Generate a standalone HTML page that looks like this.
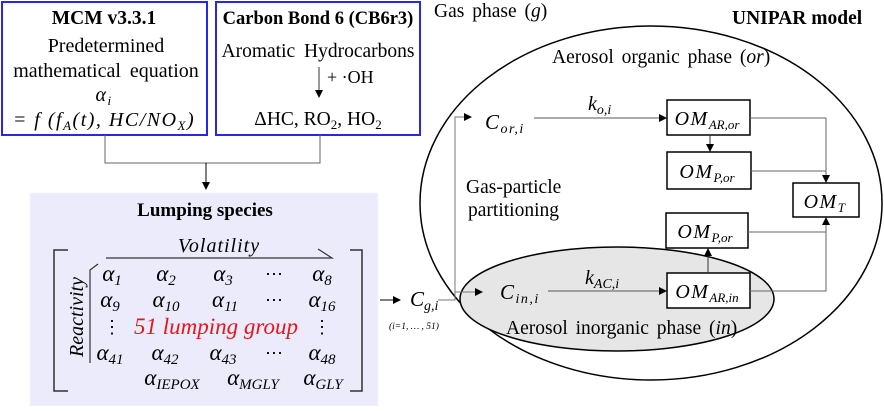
<!DOCTYPE html>
<html><head><meta charset="utf-8"><style>
body{margin:0;background:#fff;width:884px;height:406px;overflow:hidden}
svg text{font-family:"Liberation Serif",serif;fill:#000}
.i{font-style:italic}
.m{font-style:italic;letter-spacing:1.5px}
</style></head><body>
<svg width="884" height="406" viewBox="0 0 884 406" xmlns="http://www.w3.org/2000/svg">
<defs><marker id="a" markerWidth="8" markerHeight="8" refX="7" refY="4" orient="auto" markerUnits="userSpaceOnUse"><path d="M0,0 L8,4 L0,8 z" fill="#000"/></marker></defs>
<rect x="2" y="2" width="205" height="133" fill="#fff" stroke="#2828e0" stroke-width="2"/>
<text x="104" y="24" text-anchor="middle" font-weight="bold" font-size="19.5">MCM v3.3.1</text>
<text x="106" y="52" text-anchor="middle" font-size="20">Predetermined</text>
<text x="106" y="77" text-anchor="middle" font-size="20" word-spacing="4">mathematical equation</text>
<text x="104" y="101" text-anchor="middle" font-size="20" class="m">α<tspan font-size="13" dy="4">i</tspan></text>
<text x="104" y="126" text-anchor="middle" font-size="20" class="m">= f (f<tspan font-size="13" dy="4">A</tspan><tspan dy="-4">(t), HC/NO</tspan><tspan font-size="13" dy="4">X</tspan><tspan dy="-4">)</tspan></text>
<rect x="216" y="2" width="204" height="133" fill="#fff" stroke="#2828e0" stroke-width="2"/>
<text x="318" y="24" text-anchor="middle" font-weight="bold" font-size="18.5">Carbon Bond 6 (CB6r3)</text>
<text x="318" y="57" text-anchor="middle" font-size="19.5" word-spacing="4">Aromatic Hydrocarbons</text>
<line x1="319" y1="67" x2="319" y2="97" stroke="#333" marker-end="url(#a)"/>
<text x="327" y="83" font-size="18">+ ·OH</text>
<text x="318" y="125" text-anchor="middle" font-size="19.5">ΔHC, RO<tspan font-size="13" dy="4">2</tspan><tspan dy="-4">, HO</tspan><tspan font-size="13" dy="4">2</tspan></text>
<path d="M105,135 V163 H320 V135" fill="none" stroke="#666"/>
<line x1="206" y1="163" x2="206" y2="189" stroke="#000" marker-end="url(#a)"/>
<rect x="30" y="193" width="348" height="213" fill="#ebebfb" stroke="#f4f4ff"/>
<text x="205" y="216" text-anchor="middle" font-weight="bold" font-size="19">Lumping species</text>
<path d="M68,250 H54 V391 H68 M350,250 H362 V391 H350" fill="none" stroke="#333" stroke-width="1.5"/>
<text x="219" y="252" text-anchor="middle" font-size="20" class="i" letter-spacing="1">Volatility</text>
<path d="M106,258 H332 L318,249" fill="none" stroke="#333" stroke-width="1.2"/>
<path d="M90,363 V270 L98,264" fill="none" stroke="#333" stroke-width="1.2"/>
<text transform="translate(83,357) rotate(-90)" font-size="20" class="i">Reactivity</text>
<g font-size="23" class="i" text-anchor="middle">
<text x="112" y="281">α<tspan font-size="15" dy="4">1</tspan></text>
<text x="166" y="281">α<tspan font-size="15" dy="4">2</tspan></text>
<text x="223" y="281">α<tspan font-size="15" dy="4">3</tspan></text>
<text x="274" y="280" font-style="normal" font-size="18">⋯</text>
<text x="322" y="281">α<tspan font-size="15" dy="4">8</tspan></text>
<text x="110" y="307">α<tspan font-size="15" dy="4">9</tspan></text>
<text x="166" y="307">α<tspan font-size="15" dy="4">10</tspan></text>
<text x="225" y="307">α<tspan font-size="15" dy="4">11</tspan></text>
<text x="274" y="306" font-style="normal" font-size="18">⋯</text>
<text x="322" y="307">α<tspan font-size="15" dy="4">16</tspan></text>
<text x="112" y="333" font-style="normal" font-size="18">⋮</text>
<text x="322" y="333" font-style="normal" font-size="18">⋮</text>
<text x="110" y="360">α<tspan font-size="15" dy="4">41</tspan></text>
<text x="165" y="360">α<tspan font-size="15" dy="4">42</tspan></text>
<text x="223" y="360">α<tspan font-size="15" dy="4">43</tspan></text>
<text x="274" y="359" font-style="normal" font-size="18">⋯</text>
<text x="322" y="360">α<tspan font-size="15" dy="4">48</tspan></text>
<text x="172" y="385">α<tspan font-size="15" dy="4">IEPOX</tspan></text>
<text x="253" y="385">α<tspan font-size="15" dy="4">MGLY</tspan></text>
<text x="323" y="385">α<tspan font-size="15" dy="4">GLY</tspan></text>
</g>
<text x="216" y="334" text-anchor="middle" font-size="23" class="i" style="fill:#e8141e">51 lumping group</text>
<line x1="380" y1="300" x2="400" y2="300" stroke="#000" marker-end="url(#a)"/>
<text x="410" y="306" font-size="21" class="i">C<tspan font-size="14" dy="4">g,i</tspan></text>
<text x="389" y="329" font-size="9.5" class="i">(i=1, … , 51)</text>
<text x="434" y="17" font-size="19.5" word-spacing="3">Gas phase (<tspan class="i">g</tspan>)</text>
<text x="732" y="24" font-size="19.5" font-weight="bold">UNIPAR model</text>
<ellipse cx="651" cy="203" rx="231" ry="177" fill="#fff" stroke="#000" stroke-width="1.5"/>
<text x="552" y="63" font-size="19.5" word-spacing="3">Aerosol organic phase (<tspan class="i">or</tspan>)</text>
<ellipse cx="617" cy="299" rx="157" ry="52" fill="#e6e6e6" stroke="#000" stroke-width="1.5"/>
<text x="506" y="334" font-size="19.5" word-spacing="3">Aerosol inorganic phase (<tspan class="i">in</tspan>)</text>
<text x="466" y="193" font-size="19.5">Gas-particle</text>
<text x="468" y="216" font-size="19.5">partitioning</text>
<path d="M438,300 H455 V117 H471" fill="none" stroke="#777" marker-end="url(#a)"/>
<path d="M455,292 H482" fill="none" stroke="#777" marker-end="url(#a)"/>
<text x="485" y="129" font-size="21" class="m">C<tspan font-size="14" dy="4">or,i</tspan></text>
<text x="500" y="299" font-size="21" class="m">C<tspan font-size="14" dy="4">in,i</tspan></text>
<line x1="534" y1="118" x2="666" y2="118" stroke="#555" marker-end="url(#a)"/>
<text x="588" y="110" font-size="20" class="i">k<tspan font-size="14" dy="4">o,i</tspan></text>
<line x1="548" y1="291" x2="666" y2="291" stroke="#555" marker-end="url(#a)"/>
<text x="585" y="284" font-size="20" class="i">k<tspan font-size="14" dy="4">AC,i</tspan></text>
<g fill="#fff" stroke="#000" stroke-width="1.5">
<rect x="667" y="100" width="83" height="35"/>
<rect x="667" y="152" width="84" height="37"/>
<rect x="793" y="183" width="66" height="34"/>
<rect x="666" y="213" width="82" height="35"/>
<rect x="667" y="273" width="83" height="35"/>
</g>
<g font-size="20" class="m" text-anchor="middle">
<text x="707" y="125">OM<tspan font-size="13" dy="4" letter-spacing="0">AR,or</tspan></text>
<text x="707" y="178">OM<tspan font-size="13" dy="4" letter-spacing="0">P,or</tspan></text>
<text x="825" y="208">OM<tspan font-size="13" dy="4">T</tspan></text>
<text x="705" y="238">OM<tspan font-size="13" dy="4" letter-spacing="0">P,or</tspan></text>
<text x="707" y="298">OM<tspan font-size="13" dy="4" letter-spacing="0">AR,in</tspan></text>
</g>
<line x1="710" y1="135" x2="710" y2="151" stroke="#333" marker-end="url(#a)"/>
<line x1="708" y1="273" x2="708" y2="249" stroke="#333" marker-end="url(#a)"/>
<path d="M750,118 H826 V182" fill="none" stroke="#666" marker-end="url(#a)"/>
<path d="M751,171 H826" fill="none" stroke="#666"/>
<path d="M748,232 H826" fill="none" stroke="#666"/>
<path d="M750,291 H826 V218" fill="none" stroke="#666" marker-end="url(#a)"/>
</svg>
</body></html>
